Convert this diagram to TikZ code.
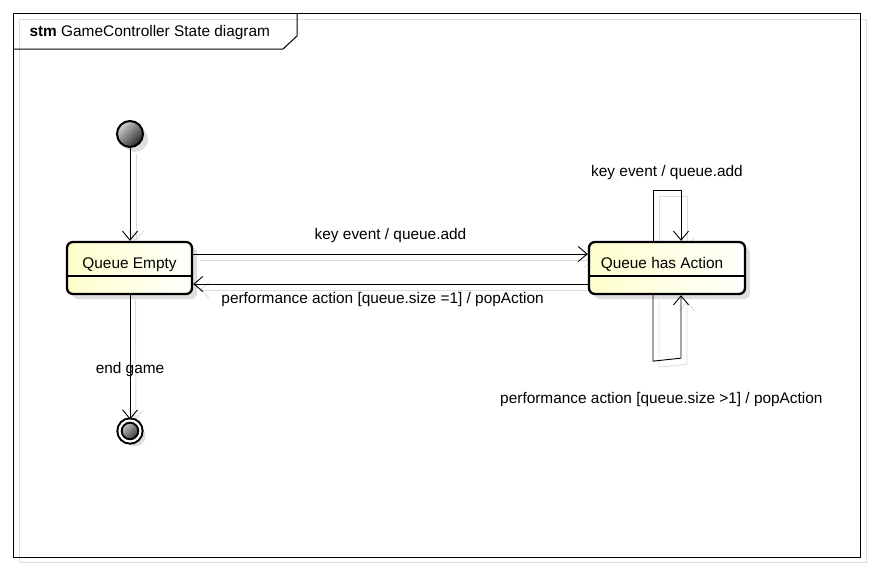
\documentclass[tikz,border=0pt]{standalone}
\usepackage{fontspec}
\setmainfont{Liberation Sans}
\usetikzlibrary{arrows.meta, positioning, shadows, backgrounds, calc}
\definecolor{StateFill}{RGB}{255,255,204}
\definecolor{ShadowGray}{RGB}{222,222,222}
\tikzset{
  >={Straight Barb[length=9pt,width=15pt]},
  % stati
  node state/.style={draw,line width=2.3pt,rounded corners=6pt,minimum height=52pt,
    left color=StateFill,right color=white!96!StateFill,text height=10pt,text depth=10pt,
    inner sep=0pt,font=\fontsize{15.4}{17}\selectfont,
    drop shadow={shadow xshift=5pt,shadow yshift=-5pt,fill=ShadowGray,opacity=1}},
  node init/.style={circle,draw,line width=2pt,minimum size=26pt,inner sep=0pt,
    top color=gray!35,bottom color=black!85,shading angle=45,
    drop shadow={shadow xshift=5pt,shadow yshift=-5pt,fill=ShadowGray,opacity=1}},
  node final/.style={node init,line width=2pt,double=white,double distance=2.2pt,minimum size=21pt},
  % connessioni
  connect arrow/.style={->,line width=0.9pt,black},
  connect shadow/.style={->,line width=0.9pt,ShadowGray},
  edge label/.style={font=\fontsize{15.4}{17}\selectfont,inner sep=0pt}
}
\begin{document}
\begin{tikzpicture}[x=1pt,y=-1pt]
  \useasboundingbox (0,0) rectangle (873,570);
  % cornice
  \draw[ShadowGray,line width=1pt] (19,19) rectangle (866,562);
  \draw[line width=1pt] (13,13) rectangle (860,557);
  \draw[line width=1pt] (13,49) -- (283,49) -- (297,36) -- (297,13);
  \node[anchor=west,font=\fontsize{15.4}{17}\selectfont] (title) at (26,33)
    {\textbf{stm} GameController State diagram};

  % stati
  \node[node init] (init) at (130,134) {};
  \node[node state,minimum width=125pt] (qe) at (129.5,268) {Queue Empty};
  \node[node state,minimum width=156pt] (qa) at (667,268) {\hspace*{-10pt}Queue has Action};
  \node[node final] (fin) at (130,431) {};
  \draw[line width=1.3pt] ([yshift=-8pt]qe.west) -- ([yshift=-8pt]qe.east);
  \draw[line width=1.3pt] ([yshift=-8pt]qa.west) -- ([yshift=-8pt]qa.east);

  % ombre delle transizioni
  \begin{scope}[on background layer]
    \draw[connect shadow] ([xshift=6pt,yshift=-6pt]init.south) -- ([xshift=6pt]init.south |- qe.north);
    \draw[connect shadow] ([xshift=6pt,yshift=8pt]qe.east) -- ([xshift=6pt,yshift=8pt]qa.west);
    \draw[connect shadow] ([xshift=6pt,yshift=-22pt]qa.west) -- ([xshift=6pt,yshift=-22pt]qe.east);
    \draw[connect shadow] ([xshift=-8pt,yshift=-6pt]qa.north) -- ++(0,-50) -| ([xshift=20pt,yshift=-6pt]qa.north);
    \draw[connect shadow] ([xshift=-8pt,yshift=-6pt]qa.south) -- ++(0,66) -- ++(28,-3) -- ([xshift=20pt,yshift=-6pt]qa.south);
    \draw[connect shadow] ([xshift=6pt]qe.south) -- ([xshift=6pt]fin.north);
  \end{scope}

  % transizioni
  \draw[connect arrow] (init) -- (init |- qe.north);
  \draw[connect arrow] ([yshift=14pt]qe.east) -- ([yshift=14pt]qa.west)
    node[edge label,midway,above=11pt] {key event / queue.add};
  \draw[connect arrow] ([yshift=-16pt]qa.west) -- ([yshift=-16pt]qe.east)
    node[edge label,pos=0.52,below=8pt] {performance action [queue.size =1] / popAction};
  \draw[connect arrow] ([xshift=-14pt]qa.north) -- ++(0,-50) -| ([xshift=14pt]qa.north)
    node[edge label,pos=0.25,above=11pt] {key event / queue.add};
  \draw[connect arrow] ([xshift=-14pt]qa.south) -- ++(0,66) -- ++(28,-3)
    node[edge label,pos=0.3,below=32pt] {performance action [queue.size >1] / popAction}
    -- ([xshift=14pt]qa.south);
  \draw[connect arrow] (qe.south -| init) -- (fin)
    node[edge label,pos=0.6] {end game};
\end{tikzpicture}
\end{document}
